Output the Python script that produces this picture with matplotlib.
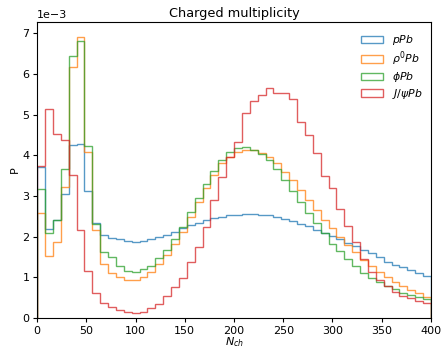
import numpy as np
import matplotlib
matplotlib.use("Agg")
import matplotlib.pyplot as plt

# Bin edges of N_ch (width 8, 0..400)
bin_edges = np.arange(0, 401, 8)

# Densities in units of 1e-3
p_pb = [3.72, 2.19, 2.41, 3.05, 4.25, 4.28, 3.12, 2.33, 2.05, 1.97,
        1.93, 1.88, 1.87, 1.90, 1.93, 1.98, 2.04, 2.12, 2.22, 2.28,
        2.34, 2.40, 2.45, 2.49, 2.52, 2.54, 2.55, 2.55, 2.54, 2.53,
        2.48, 2.43, 2.38, 2.32, 2.26, 2.17, 2.10, 2.01, 1.93, 1.85,
        1.77, 1.67, 1.59, 1.49, 1.38, 1.30, 1.25, 1.18, 1.11, 1.03]

rho_pb = [2.58, 1.52, 1.87, 3.22, 6.17, 6.90, 4.08, 2.16, 1.33, 1.11,
          1.01, 0.93, 0.93, 1.01, 1.13, 1.33, 1.54, 1.83, 2.12, 2.49,
          2.86, 3.19, 3.51, 3.82, 3.95, 4.09, 4.14, 4.13, 4.06, 3.95,
          3.80, 3.59, 3.39, 3.14, 2.91, 2.66, 2.42, 2.20, 2.00, 1.79,
          1.63, 1.43, 1.28, 1.14, 1.01, 0.89, 0.79, 0.69, 0.61, 0.52]

phi_pb = [3.17, 2.09, 2.42, 3.66, 6.44, 6.81, 4.23, 2.31, 1.61, 1.49,
          1.29, 1.15, 1.13, 1.21, 1.29, 1.47, 1.67, 1.95, 2.24, 2.61,
          2.96, 3.29, 3.62, 3.88, 4.07, 4.18, 4.21, 4.14, 4.04, 3.88,
          3.65, 3.39, 3.13, 2.85, 2.59, 2.33, 2.08, 1.83, 1.65, 1.44,
          1.28, 1.11, 0.98, 0.89, 0.79, 0.71, 0.62, 0.57, 0.51, 0.46]

jpsi_pb = [3.73, 5.13, 4.52, 4.37, 3.51, 2.16, 1.15, 0.61, 0.38, 0.27,
           0.19, 0.14, 0.13, 0.15, 0.25, 0.35, 0.53, 0.75, 0.99, 1.38,
           1.75, 2.24, 2.90, 3.46, 3.95, 4.33, 5.03, 5.32, 5.48, 5.64,
           5.52, 5.52, 5.37, 4.82, 4.50, 4.06, 3.50, 3.19, 2.69, 2.26,
           1.87, 1.44, 1.14, 0.93, 0.79, 0.65, 0.54, 0.49, 0.43, 0.38]

labels = [r"$pPb$", r"$\rho^0Pb$", r"$\phi Pb$", r"$J/\psi Pb$"]
series = [p_pb, rho_pb, phi_pb, jpsi_pb]
colors = ["#1f77b4", "#ff7f0e", "#2ca02c", "#d62728"]

plt.rcParams["font.family"] = ["DejaVu Sans"]
plt.rcParams["font.size"] = 8
plt.rcParams["xtick.major.size"] = 3
plt.rcParams["ytick.major.size"] = 3
plt.rcParams["xtick.major.pad"] = 2.5
plt.rcParams["ytick.major.pad"] = 2.5

fig = plt.figure(figsize=(4.42, 3.51), dpi=100)
ax = fig.add_axes([0.084, 0.094, 0.891, 0.843])

centers = 0.5 * (bin_edges[:-1] + bin_edges[1:])
for vals, lab, col in zip(series, labels, colors):
    ax.hist(centers, bins=bin_edges, weights=np.array(vals) * 1e-3,
            histtype="step", color=col, alpha=0.75, linewidth=1.0, label=lab)

ax.set_xlim(0, 400)
ax.set_ylim(0, 7.27e-3)
ax.ticklabel_format(axis="y", style="sci", scilimits=(0, 0))
ax.set_title("Charged multiplicity", fontsize=9.3, pad=4)
ax.set_xlabel(r"$N_{ch}$", labelpad=0)
ax.set_ylabel("P", labelpad=2)
ax.legend(loc="upper right", fontsize=7.8, frameon=False,
          labelspacing=0.22, handlelength=2.0, handletextpad=0.8,
          borderaxespad=0.75, bbox_to_anchor=(1.01, 1.005))

fig.savefig("out.png", dpi=100)
